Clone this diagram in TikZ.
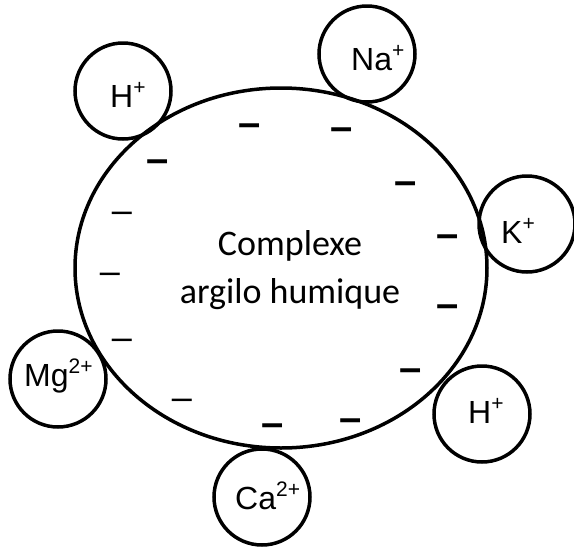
\documentclass[tikz,border=0pt]{standalone}
\usepackage{fontspec}
\setmainfont{Liberation Sans}
\newfontfamily\calib{Carlito}
\usetikzlibrary{shapes.geometric}
\newcommand{\ionsup}[1]{\raisebox{13pt}{\fontsize{21}{21}\selectfont #1}}
\begin{document}
\begin{tikzpicture}[x=1pt,y=-1pt,
  ring/.style={draw, line width=3.5pt},
  ion/.style={ring, circle, minimum size=96pt, inner sep=0pt},
  iontxt/.style={anchor=base west, inner sep=0pt, font=\fontsize{32}{32}\selectfont},
  maintxt/.style={anchor=base, inner sep=0pt, font=\calib\fontsize{36}{36}\selectfont},
  chargeb/.style={anchor=base, inner sep=0pt, font=\fontsize{40}{40}\selectfont\bfseries},
  chargen/.style={anchor=base, inner sep=0pt, font=\fontsize{36}{36}\selectfont}]
\useasboundingbox (0,0) rectangle (574,550);
% big complex
\node[ring, ellipse, minimum width=412pt, minimum height=360pt, inner sep=0pt] (cx) at (281,268) {};
\node[maintxt] (t1) at (290,255) {Complexe};
\node[maintxt] (t2) at (290,303) {argilo humique};
% ions
\node[ion] (h1) at (123,91) {};
\node[ion] (na) at (367,54) {};
\node[ion] (k)  at (527,224) {};
\node[ion] (h2) at (482,414) {};
\node[ion] (mg) at (58,379) {};
\node[ion] (ca) at (262,497) {};
\node[iontxt] (lh1) at (110,107) {H\ionsup{+}};
\node[iontxt] (lna) at (351,70) {Na\ionsup{+}};
\node[iontxt] (lk)  at (501,243) {K\ionsup{+}};
\node[iontxt] (lh2) at (468,423) {H\ionsup{+}};
\node[iontxt] (lmg) at (24,386) {Mg\ionsup{2+}};
\node[iontxt] (lca) at (235,509) {Ca\ionsup{2+}};
% negative charges (bold)
\node[chargeb] (b1) at (250,136.5) {–};
\node[chargeb] (b2) at (342,140.5) {–};
\node[chargeb] (b3) at (158,172.5) {–};
\node[chargeb] (b4) at (406,194.5) {–};
\node[chargeb] (b5) at (448,247.5) {–};
\node[chargeb] (b6) at (448,317.5) {–};
\node[chargeb] (b7) at (411,381.5) {–};
\node[chargeb] (b8) at (273,436.5) {–};
\node[chargeb] (b9) at (351,431.5) {–};
% negative charges (thin)
\node[chargen] (n1) at (122,222.5) {–};
\node[chargen] (n2) at (110,283.5) {–};
\node[chargen] (n3) at (122,349.5) {–};
\node[chargen] (n4) at (182,409.5) {–};
\end{tikzpicture}
\end{document}
